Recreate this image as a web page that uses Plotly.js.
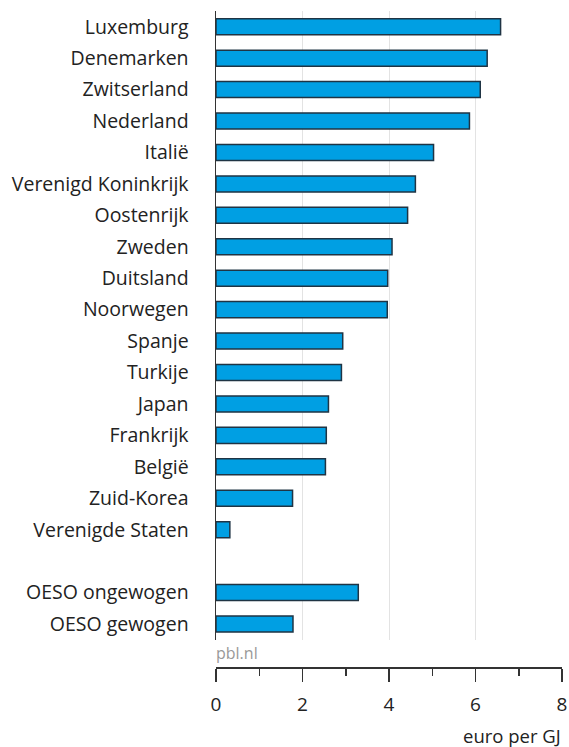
<!DOCTYPE html>
<html>
<head>
<meta charset="utf-8">
<script src="https://cdn.plot.ly/plotly-3.0.1.min.js"></script>
<style>html,body{margin:0;padding:0;background:#fff;}#chart{width:569px;height:747px;}</style>
</head>
<body>
<div id="chart"></div>
<script>
// Categories (top to bottom); ' ' is an empty spacer row
const categories = [
  'Luxemburg', 'Denemarken', 'Zwitserland', 'Nederland', 'Italië',
  'Verenigd Koninkrijk', 'Oostenrijk', 'Zweden', 'Duitsland', 'Noorwegen',
  'Spanje', 'Turkije', 'Japan', 'Frankrijk', 'België', 'Zuid-Korea',
  'Verenigde Staten', ' ', 'OESO ongewogen', 'OESO gewogen'
];
// euro per GJ
const values = [
  6.58, 6.27, 6.11, 5.86, 5.03,
  4.61, 4.43, 4.07, 3.97, 3.96,
  2.93, 2.90, 2.60, 2.55, 2.53, 1.77,
  0.32, null, 3.29, 1.78
];
const xTickVals = [0, 2, 4, 6, 8];
const xTickText = ['0', '2', '4', '6', '8'];
const xTitle = 'euro per GJ';
const sourceText = 'pbl.nl';

const FONT = 'Open Sans, Noto Sans, sans-serif';

const trace = {
  type: 'bar',
  orientation: 'h',
  y: categories,
  x: values,
  marker: { color: '#009fe3', line: { color: '#1f3444', width: 1.5 } },
  hoverinfo: 'x+y'
};

const layout = {
  width: 569, height: 747,
  margin: { l: 216, r: 7, t: 10.6, b: 80 },
  paper_bgcolor: '#fff', plot_bgcolor: '#fff',
  showlegend: false,
  bargap: 0.49,
  font: { family: FONT, size: 19, color: '#222' },
  xaxis: {
    range: [0, 8],
    anchor: 'free', position: 0,
    tickvals: xTickVals, ticktext: xTickText,
    ticks: 'outside', ticklen: 13, tickwidth: 1.5, tickcolor: '#333',
    showline: true, linecolor: '#333', linewidth: 1.5,
    showgrid: true, gridcolor: '#e3e3e3', gridwidth: 1,
    zeroline: false,
    tickfont: { family: FONT, size: 19, color: '#222' },
    ticklabelstandoff: 7,
    minor: { dtick: 1, tick0: 0, ticks: 'outside', ticklen: 7, tickwidth: 1.5, tickcolor: '#333', showgrid: false },
    fixedrange: true
  },
  yaxis: {
    type: 'category',
    categoryorder: 'array', categoryarray: categories,
    range: [categories.length - 0.5, -0.5],
    domain: [0.0416, 1],
    showline: true, linecolor: '#333', linewidth: 1.5,
    showgrid: false, zeroline: false,
    ticks: '',
    ticklabelstandoff: 22,
    tickfont: { family: FONT, size: 19.5, color: '#222' },
    fixedrange: true
  },
  annotations: [
    {
      text: xTitle, xref: 'paper', yref: 'paper', x: 1, y: -0.104,
      xanchor: 'right', yanchor: 'middle', showarrow: false, borderpad: 0,
      font: { family: FONT, size: 18.5, color: '#222' }
    },
    {
      text: sourceText, xref: 'paper', yref: 'paper', x: 0, y: 0.0213,
      xanchor: 'left', yanchor: 'middle', showarrow: false, xshift: -2,
      font: { family: FONT, size: 16, color: '#999' }
    }
  ]
};

Plotly.newPlot('chart', [trace], layout, { displayModeBar: false, staticPlot: true });
</script>
</body>
</html>
